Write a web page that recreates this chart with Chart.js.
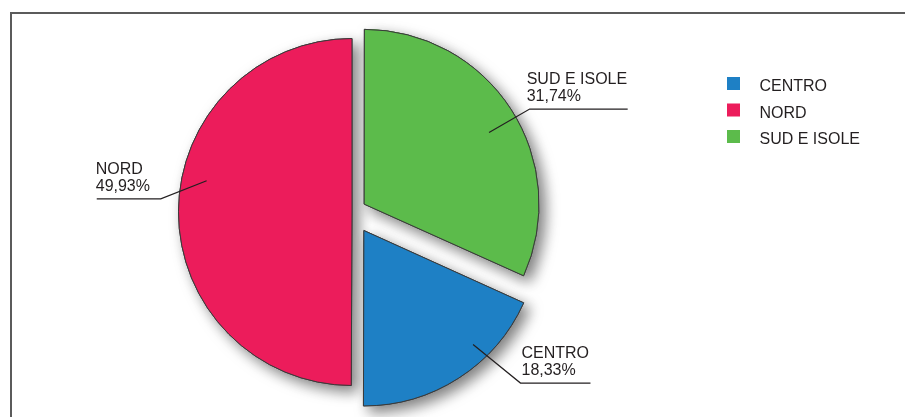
<!DOCTYPE html>
<html>
<head>
<meta charset="utf-8">
<script src="https://cdn.jsdelivr.net/npm/chart.js@4.4.1/dist/chart.umd.min.js"></script>
<style>
  html, body { margin: 0; padding: 0; background: #fff; overflow: hidden; }
  #wrap { position: relative; width: 905px; height: 417px; }
  #frame { position: absolute; left: 10px; top: 12px; width: 1000px; height: 600px; border: 2px solid #5b5b5b; box-sizing: border-box; }
  #chart { position: absolute; left: 0; top: 0; }
</style>
</head>
<body>
<div id="wrap">
  <div id="frame"></div>
  <canvas id="chart" width="905" height="417"></canvas>
</div>
<script>
const regions = ["CENTRO", "NORD", "SUD E ISOLE"];
const shares = [18.33, 49.93, 31.74];
const colors = ["#1e80c5", "#ec1c5b", "#5cbb4b"];
// chart.js moves an arc by offset / 4
const explode = [88, 0, 58];
// leader lines: angle tweaks (deg), radius factors, horizontal arm, text shift
const leaders = [
  { da1: -11, da2: -13, r1: 0.91, r2: 1.26, arm: 70, tdx: 1 },
  { da1: 12, da2: 3.8, r1: 0.857, r2: 1.105, arm: -64, tdx: -1 },
  { da1: 3, da2: 3, r1: 0.83, r2: 1.1, arm: 98, tdx: -3 }
];

const FONT = '16px "Liberation Sans", Arial, sans-serif';
const INK = "#231f20";

function fmt(v) {
  return v.toFixed(2).replace(".", ",") + "%";
}

// soft shadow under all slices, painted before the normal draw
const shadowPlugin = {
  id: "shadow",
  beforeDatasetsDraw(chart) {
    const ctx = chart.ctx;
    ctx.save();
    ctx.shadowColor = "rgba(0,0,0,0.5)";
    ctx.shadowBlur = 14;
    ctx.shadowOffsetX = 6;
    ctx.shadowOffsetY = 6;
    chart.getDatasetMeta(0).data.forEach(arc => arc.draw(ctx));
    ctx.restore();
  }
};

const labelPlugin = {
  id: "sliceLabels",
  afterDatasetsDraw(chart) {
    const ctx = chart.ctx;
    const arcs = chart.getDatasetMeta(0).data;
    ctx.save();
    ctx.strokeStyle = INK;
    ctx.fillStyle = INK;
    ctx.lineWidth = 1.2;
    ctx.font = FONT;
    ctx.textAlign = "left";
    ctx.textBaseline = "alphabetic";
    arcs.forEach((arc, i) => {
      const p = arc.getProps(["x", "y", "startAngle", "endAngle", "outerRadius"], true);
      const mid = (p.startAngle + p.endAngle) / 2;
      const t = (arc.options.offset || 0) / 4;
      const cx = p.x + Math.cos(mid) * t;
      const cy = p.y + Math.sin(mid) * t;
      const L = leaders[i];
      const a1 = mid + L.da1 * Math.PI / 180;
      const a2 = mid + L.da2 * Math.PI / 180;
      const sx = cx + Math.cos(a1) * p.outerRadius * L.r1;
      const sy = cy + Math.sin(a1) * p.outerRadius * L.r1;
      const ex = cx + Math.cos(a2) * p.outerRadius * L.r2;
      const ey = cy + Math.sin(a2) * p.outerRadius * L.r2;
      const ax = ex + L.arm;
      ctx.beginPath();
      ctx.moveTo(sx, sy);
      ctx.lineTo(ex, ey);
      ctx.lineTo(ax, ey);
      ctx.stroke();
      const tx = Math.min(ex, ax) + L.tdx;
      ctx.fillText(regions[i], tx, ey - 25);
      ctx.fillText(fmt(shares[i]), tx, ey - 8);
    });
    ctx.restore();
  }
};

const legendPlugin = {
  id: "sideLegend",
  afterDraw(chart) {
    const ctx = chart.ctx;
    ctx.save();
    ctx.font = FONT;
    ctx.textBaseline = "alphabetic";
    regions.forEach((name, i) => {
      const y = 77 + i * 26.5;
      ctx.fillStyle = colors[i];
      ctx.fillRect(727, y, 13, 13);
      ctx.fillStyle = INK;
      ctx.fillText(name, 759.5, y + 14);
    });
    ctx.restore();
  }
};

new Chart(document.getElementById("chart"), {
  type: "pie",
  data: {
    labels: regions,
    datasets: [{
      data: shares,
      backgroundColor: colors,
      borderColor: "#3a3a3a",
      borderWidth: 1,
      offset: explode,
      hoverOffset: 0
    }]
  },
  options: {
    responsive: false,
    animation: false,
    rotation: 114.26,
    radius: 173.5,
    layout: { padding: { left: 0, right: 201, top: 7, bottom: 0 } },
    events: [],
    plugins: {
      legend: { display: false },
      tooltip: { enabled: false }
    }
  },
  plugins: [shadowPlugin, labelPlugin, legendPlugin]
});
</script>
</body>
</html>
